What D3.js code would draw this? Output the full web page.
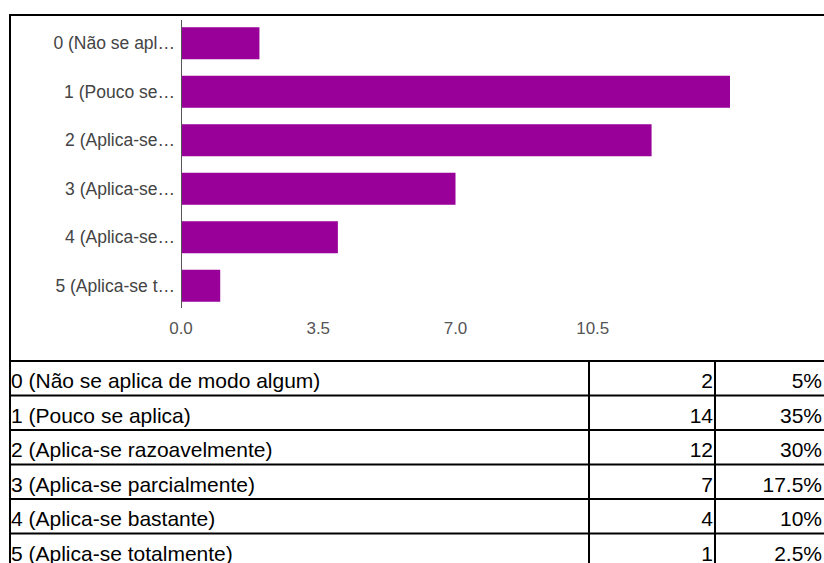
<!DOCTYPE html>
<html>
<head>
<meta charset="utf-8">
<script src="https://cdn.jsdelivr.net/npm/d3@7"></script>
<style>
  body { margin: 0; background: #fff; }
  svg { display: block; }
  .ylab text { font-family: Arial, "Liberation Sans", sans-serif; font-size: 17.5px; fill: #444; }
  .xlab text { font-family: Arial, "Liberation Sans", sans-serif; font-size: 17px; fill: #555; }
  .cell { font-family: Arial, "Liberation Sans", sans-serif; font-size: 21px; fill: #000; }
</style>
</head>
<body>
<svg id="chart" width="824" height="563"></svg>
<script>
let categories = ["0 (Não se aplica de modo algum)", "1 (Pouco se aplica)", "2 (Aplica-se razoavelmente)",
    "3 (Aplica-se parcialmente)", "4 (Aplica-se bastante)", "5 (Aplica-se totalmente)"];
let shortLabels = ["0 (Não se apl…", "1 (Pouco se…", "2 (Aplica-se…", "3 (Aplica-se…", "4 (Aplica-se…", "5 (Aplica-se t…"];
let counts = [2, 14, 12, 7, 4, 1];
let percents = ["5%", "35%", "30%", "17.5%", "10%", "2.5%"];
let xTicks = [0, 3.5, 7, 10.5];

let svg = d3.select('#chart');

// chart area
let x = d3.scaleLinear().domain([0, 14]).range([181, 730]);
let y = d3.scaleBand().domain(shortLabels).range([19, 310]).paddingInner(0.34).paddingOuter(0.17);

svg.selectAll('.bar').data(counts).enter().append('rect')
    .attr('class', 'bar')
    .attr('x', x(0))
    .attr('y', function (d, i) { return y(shortLabels[i]); })
    .attr('width', function (d) { return x(d) - x(0); })
    .attr('height', y.bandwidth())
    .attr('fill', '#990099');

// y axis line + labels
svg.append('line')
    .attr('x1', x(0) + 0.5).attr('x2', x(0) + 0.5)
    .attr('y1', 20).attr('y2', 308)
    .attr('stroke', '#555').attr('stroke-width', 1);

svg.append('g').attr('class', 'ylab')
    .selectAll('text').data(shortLabels).enter().append('text')
    .attr('x', 175)
    .attr('y', function (d) { return y(d) + y.bandwidth() / 2; })
    .attr('dy', '.35em')
    .attr('text-anchor', 'end')
    .text(function (d) { return d; });

svg.append('g').attr('class', 'xlab')
    .selectAll('text').data(xTicks).enter().append('text')
    .attr('x', function (d) { return x(d); })
    .attr('y', 334)
    .attr('text-anchor', 'middle')
    .text(function (d) { return d3.format('.1f')(d); });

// borders
let ink = '#000';
svg.append('line').attr('x1', 9).attr('x2', 824).attr('y1', 15).attr('y2', 15).attr('stroke', ink).attr('stroke-width', 2);
svg.append('line').attr('x1', 10).attr('x2', 10).attr('y1', 14).attr('y2', 563).attr('stroke', ink).attr('stroke-width', 2);

// table
let rowTop = 361, rowH = 34.5;
svg.selectAll('.hline').data(d3.range(categories.length + 1)).enter().append('line')
    .attr('class', 'hline')
    .attr('x1', 9).attr('x2', 824)
    .attr('y1', function (d) { return rowTop + d * rowH; })
    .attr('y2', function (d) { return rowTop + d * rowH; })
    .attr('stroke', ink).attr('stroke-width', 2);

[589, 715].forEach(function (cx) {
    svg.append('line').attr('x1', cx).attr('x2', cx).attr('y1', rowTop).attr('y2', 563)
        .attr('stroke', ink).attr('stroke-width', 2);
});

svg.selectAll('.cname').data(categories).enter().append('text')
    .attr('class', 'cell')
    .attr('x', 11)
    .attr('y', function (d, i) { return rowTop + i * rowH + 27; })
    .text(function (d) { return d; });

svg.selectAll('.ccount').data(counts).enter().append('text')
    .attr('class', 'cell')
    .attr('x', 713)
    .attr('y', function (d, i) { return rowTop + i * rowH + 27; })
    .attr('text-anchor', 'end')
    .text(function (d) { return d; });

svg.selectAll('.cpct').data(percents).enter().append('text')
    .attr('class', 'cell')
    .attr('x', 822)
    .attr('y', function (d, i) { return rowTop + i * rowH + 27; })
    .attr('text-anchor', 'end')
    .text(function (d) { return d; });
</script>
</body>
</html>
